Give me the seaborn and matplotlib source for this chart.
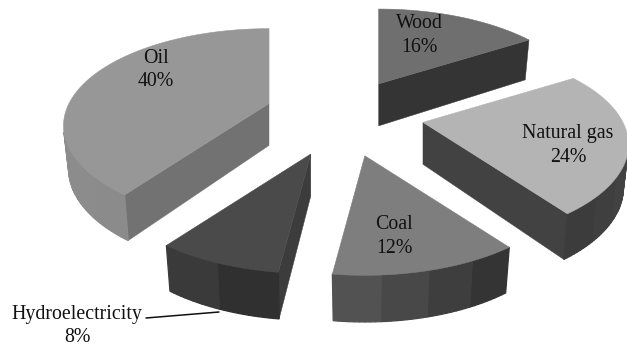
import numpy as np
import matplotlib
matplotlib.use("Agg")
import matplotlib.pyplot as plt
from matplotlib.patches import Polygon
import seaborn as sns

# Energy mix, clockwise from twelve o'clock
sources = ["Wood", "Natural gas", "Coal", "Hydroelectricity", "Oil"]
shares = [16, 24, 12, 8, 40]

sns.set_theme(style="white")
plt.rcParams["font.family"] = ["Liberation Serif", "DejaVu Serif"]

# Shades for each slice: top, start wall, end wall, rim gradient
styles = {
    "Wood": ("#6f6f6f", "#565656", "#343434", ("#3a3a3a", "#333333")),
    "Natural gas": ("#b4b4b4", "#777777", "#424242", ("#505050", "#3c3c3c")),
    "Coal": ("#7e7e7e", "#3a3a3a", "#505050", ("#343434", "#525252")),
    "Hydroelectricity": ("#4a4a4a", "#3c3c3c", "#333333", ("#303030", "#3a3a3a")),
    "Oil": ("#979797", "#727272", "#8a8a8a", ("#8b8b8b", "#939393")),
}

# Projection of the tilted disc onto the canvas
CENTER = np.array([343.0, 115.0])
SCALE_X = 200.0
SCALE_Y = 92.0
SCALE_Y_EXPLODE = 96.0
PERSPECTIVE = 0.23
EXPLODE = 0.40
DEPTH = 42.0
DEPTH_PERSPECTIVE = 0.10
BASE_SHRINK = 0.975


def project(theta, radius=1.0, scale_y=SCALE_Y):
    u, v = radius * np.sin(theta), radius * np.cos(theta)
    w = 1 + PERSPECTIVE * v
    return np.column_stack([SCALE_X * u / w, -scale_y * v / w])


def drop(top, theta, apex):
    """Bottom edge of a wall hanging below the points of the top face."""
    v = np.cos(theta)
    out = top.copy()
    out[:, 0] = apex[0] + (top[:, 0] - apex[0]) * BASE_SHRINK
    out[:, 1] = top[:, 1] + DEPTH / (1 + DEPTH_PERSPECTIVE * v)
    return out


def winding(quad):
    """Signed area in canvas coordinates, where y runs downward."""
    x, y = quad[:, 0], quad[:, 1]
    return np.sum(x * np.roll(y, -1) - np.roll(x, -1) * y)


fig = plt.figure(figsize=(6.27, 3.48), dpi=100)
ax = fig.add_axes([0, 0, 1, 1])
ax.set_xlim(0, 627)
ax.set_ylim(348, 0)
ax.set_axis_off()
sns.despine(ax=ax, left=True, bottom=True)

edges = np.deg2rad(np.cumsum([0] + shares) * 3.6)
for name, share, start, end in zip(sources, shares, edges[:-1], edges[1:]):
    top_c, start_c, end_c, rim_c = styles[name]
    mid = (start + end) / 2
    apex = CENTER + project(np.array([mid]), EXPLODE, SCALE_Y_EXPLODE)[0]
    n_arc = max(int(share * 3), 8)
    thetas = np.linspace(start, end, n_arc + 1)
    rim_top = apex + project(thetas)
    rim_bot = drop(rim_top, thetas, apex)
    apex_bot = apex + np.array([0.0, DEPTH])

    # Radial walls
    for idx, colour, sign in ((0, start_c, -1), (-1, end_c, 1)):
        quad = np.array([apex, rim_top[idx], rim_bot[idx], apex_bot])
        if sign * winding(quad) > 0:
            ax.add_patch(Polygon(quad, closed=True, fc=colour, ec=colour, lw=0.3))

    # Curved wall, shaded in coarse vertical bands
    n_bands = max(share // 3, 2)
    shades = sns.blend_palette(list(rim_c), n_colors=n_bands)
    for i in range(n_arc):
        quad = np.array([rim_top[i], rim_top[i + 1], rim_bot[i + 1], rim_bot[i]])
        if winding(quad) < 0:
            shade = shades[i * n_bands // n_arc]
            ax.add_patch(Polygon(quad, closed=True, fc=shade, ec=shade, lw=0.9))

    # Top face
    ax.add_patch(Polygon(np.vstack([apex, rim_top]), closed=True,
                         fc=top_c, ec=top_c, lw=0.4))

# Slice labels
text_style = dict(fontsize=14.3, color="#111111", ha="center", va="center",
                  linespacing=1.3)
label_spots = {
    "Wood": (419, 35.5),
    "Natural gas": (568, 145.5),
    "Coal": (394, 236.5),
    "Oil": (156, 70),
}
for name, share in zip(sources, shares):
    if name in label_spots:
        x, y = label_spots[name]
        ax.text(x, y, f"{name}\n{share}%", **text_style)

# The thinnest slice is labelled outside, with a leader line
hydro_share = shares[sources.index("Hydroelectricity")]
ax.text(77, 326, f"Hydroelectricity\n{hydro_share}%", **text_style)
ax.annotate("", xy=(219, 312), xytext=(146, 318),
            arrowprops=dict(arrowstyle="-", color="#111111", lw=1.1,
                            shrinkA=0, shrinkB=0))

fig.savefig("out.png", dpi=100, facecolor="white")
